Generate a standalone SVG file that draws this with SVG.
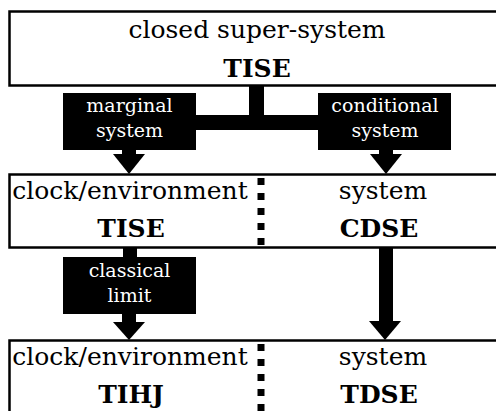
<svg xmlns="http://www.w3.org/2000/svg" width="496" height="411" viewBox="0 0 496 411">
<style>
.box{fill:#fff;stroke:#000;stroke-width:2.5}
.lab{fill:#000}
.t{font-family:"DejaVu Serif","Liberation Serif",serif;font-size:25px;fill:#000;text-anchor:middle}
.b{font-weight:bold}
.w{font-family:"DejaVu Serif","Liberation Serif",serif;font-size:19px;fill:#fff;text-anchor:middle}
.div{stroke:#000;stroke-width:7;stroke-dasharray:7 8}
</style>
<g id="connectors">
<rect x="249" y="84" width="15" height="32" fill="#000"/>
<rect x="190" y="115" width="135" height="15" fill="#000"/>
<rect x="122" y="148" width="14" height="8" fill="#000"/>
<polygon points="113,154 145,154 129,174" fill="#000"/>
<rect x="379" y="148" width="14" height="8" fill="#000"/>
<polygon points="370,154 402,154 386,174" fill="#000"/>
<rect x="123" y="246" width="14" height="12" fill="#000"/>
<rect x="122" y="312" width="14" height="10" fill="#000"/>
<polygon points="113,322 145,322 129,340" fill="#000"/>
<rect x="379" y="246" width="14" height="77" fill="#000"/>
<polygon points="369,321 401,321 385,340" fill="#000"/>
</g>
<g id="super">
<rect class="box" x="9.5" y="11.5" width="500" height="74"/>
<text class="t" x="257" y="38">closed super-system</text>
<text class="t b" x="257" y="77">TISE</text>
</g>
<g id="marginal">
<rect class="lab" x="63" y="93" width="133" height="57"/>
<text class="w" x="129.5" y="112">marginal</text>
<text class="w" x="129.5" y="137">system</text>
</g>
<g id="conditional">
<rect class="lab" x="318" y="93" width="133" height="57"/>
<text class="w" x="385" y="112">conditional</text>
<text class="w" x="385" y="137">system</text>
</g>
<g id="middle">
<rect class="box" x="9.5" y="174.5" width="500" height="73"/>
<line class="div" x1="261" y1="178" x2="261" y2="247"/>
<text class="t" x="130" y="199">clock/environment</text>
<text class="t b" x="131" y="237">TISE</text>
<text class="t" x="383" y="199">system</text>
<text class="t b" x="379" y="237">CDSE</text>
</g>
<g id="classical">
<rect class="lab" x="63" y="257" width="133" height="57"/>
<text class="w" x="129.5" y="277">classical</text>
<text class="w" x="129.5" y="302">limit</text>
</g>
<g id="bottom">
<rect class="box" x="9.5" y="340.5" width="500" height="80"/>
<line class="div" x1="261" y1="344" x2="261" y2="411"/>
<text class="t" x="130" y="365">clock/environment</text>
<text class="t b" x="131" y="403">TIHJ</text>
<text class="t" x="383" y="365">system</text>
<text class="t b" x="379" y="403">TDSE</text>
</g>
</svg>
